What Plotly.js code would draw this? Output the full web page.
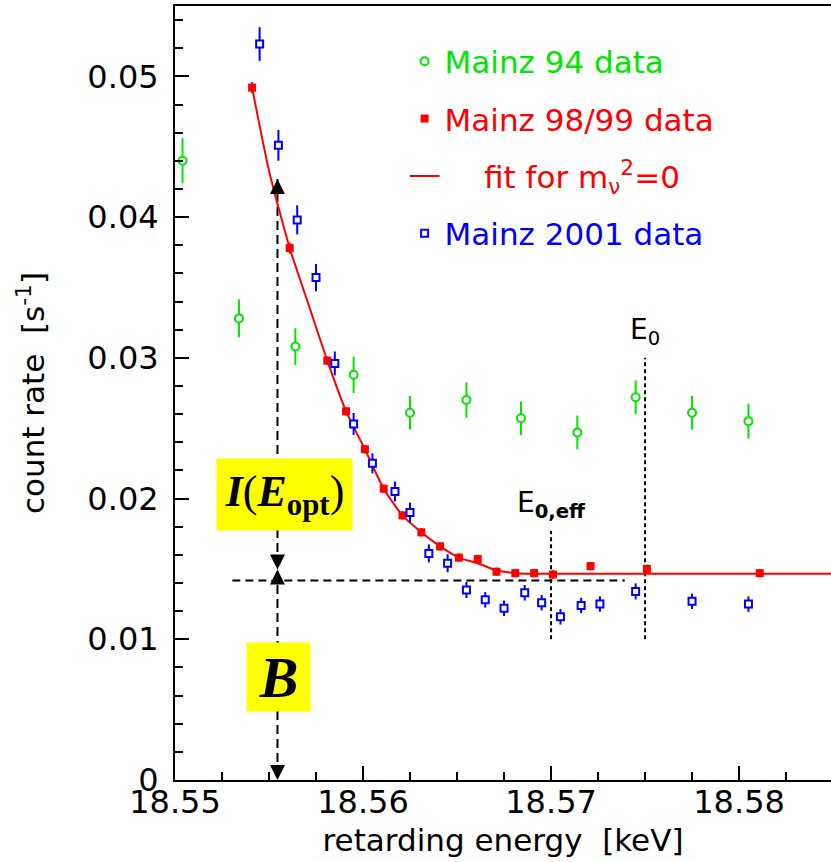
<!DOCTYPE html>
<html>
<head>
<meta charset="utf-8">
<script src="https://cdn.plot.ly/plotly-3.0.1.min.js"></script>
<style>
html,body{margin:0;padding:0;overflow:hidden;background:#fff;}
#chart{width:831px;height:862px;}
</style>
</head>
<body>
<div id="chart"></div>
<script>
// ---- data ----
const m94_x   = [18.5504, 18.5534, 18.5564, 18.5595, 18.5625, 18.5655, 18.5684, 18.5714, 18.5745, 18.5775, 18.5805];
const m94_y   = [0.0440, 0.0328, 0.0308, 0.0288, 0.0261, 0.0270, 0.0257, 0.0247, 0.0272, 0.0261, 0.0255];
const m94_err = [0.0016, 0.00135, 0.0013, 0.0013, 0.0012, 0.00125, 0.0012, 0.0012, 0.0012, 0.0012, 0.00125];

const m98_x   = [18.5541, 18.5561, 18.5581, 18.5591, 18.5601, 18.5611, 18.5621, 18.5631, 18.5641, 18.5651, 18.5661, 18.5671, 18.5681, 18.5691, 18.5701, 18.5721, 18.5751, 18.5811];
const m98_y   = [0.0492, 0.0378, 0.0298, 0.0262, 0.0235, 0.0207, 0.0188, 0.0176, 0.0166, 0.0158, 0.0157, 0.0148, 0.0147, 0.0147, 0.0146, 0.0152, 0.0150, 0.0147];
const m98_err = [0.0004, 0.0004, 0.0003, 0.0003, 0.0003, 0.0003, 0.0003, 0.0003, 0.0003, 0.0003, 0.0003, 0.0003, 0.0003, 0.0003, 0.0003, 0.0003, 0.0003, 0.0003];

const fit_x = [18.5541, 18.5550, 18.5561, 18.5572, 18.5581, 18.5591, 18.5601, 18.5611, 18.5621, 18.5631, 18.5641, 18.5651, 18.5661, 18.5671, 18.5681, 18.5691, 18.5701, 18.5750, 18.5800, 18.5849];
const fit_y = [0.0492, 0.0433, 0.0378, 0.0334, 0.0298, 0.0262, 0.0235, 0.0207, 0.0188, 0.0176, 0.0166, 0.0158, 0.0154, 0.0149, 0.0147, 0.01466, 0.01465, 0.01465, 0.01465, 0.01465];

const m01_x   = [18.5545, 18.5555, 18.5565, 18.5575, 18.5585, 18.5595, 18.5605, 18.5617, 18.5625, 18.5635, 18.5645, 18.5655, 18.5665, 18.5675, 18.5686, 18.5695, 18.5705, 18.5716, 18.5726, 18.5745, 18.5775, 18.5805];
const m01_y   = [0.0523, 0.0451, 0.0398, 0.0357, 0.0296, 0.0253, 0.0225, 0.0205, 0.0190, 0.0161, 0.0154, 0.0135, 0.0128, 0.0122, 0.0133, 0.0126, 0.0116, 0.0124, 0.0125, 0.0134, 0.0127, 0.0125];
const m01_err = [0.0012, 0.0011, 0.00103, 0.00097, 0.00085, 0.00078, 0.00071, 0.00071, 0.00071, 0.00064, 0.00064, 0.00057, 0.00055, 0.00055, 0.00055, 0.00055, 0.00055, 0.00055, 0.00055, 0.00057, 0.00055, 0.00055];

// reference levels / markers on the plot
const E0 = 18.575, E0eff = 18.570;
const eOpt = 18.55545;            // position of I(E_opt)/B arrows
const level_top = 0.0427, level_mid = 0.01496, level_B = 0.01418;

const GREEN = '#00e600', RED = '#ff0000', BLUE = '#0000ff';
const names = {
  m94: '<span style="color:' + GREEN + '">Mainz 94 data</span>',
  m98: '<span style="color:' + RED + '">Mainz 98/99 data</span>',
  fit: '<span style="color:' + RED + '">\u00a0\u00a0\u00a0 fit for m<sub>ν</sub><sup>2</sup>=0</span>',
  m01: '<span style="color:' + BLUE + '">Mainz 2001 data</span>'
};

const traces = [
  {x: m94_x, y: m94_y, name: names.m94, legendgroup: 'a', type: 'scatter', mode: 'markers',
   error_y: {type: 'data', array: m94_err, color: GREEN, thickness: 2, width: 0},
   marker: {symbol: 'circle', size: 8, color: '#ffffff', line: {color: GREEN, width: 2}}},
  {x: m98_x, y: m98_y, name: names.m98, legendgroup: 'b', type: 'scatter', mode: 'markers',
   error_y: {type: 'data', array: m98_err, color: RED, thickness: 2, width: 0},
   marker: {symbol: 'square', size: 8, color: RED, line: {width: 0}}},
  {x: fit_x, y: fit_y, name: names.fit, legendgroup: 'c', type: 'scatter', mode: 'lines',
   line: {color: RED, width: 2, shape: 'spline', smoothing: 0.6}},
  {x: m01_x, y: m01_y, name: names.m01, legendgroup: 'd', type: 'scatter', mode: 'markers',
   error_y: {type: 'data', array: m01_err, color: BLUE, thickness: 2, width: 0},
   marker: {symbol: 'square', size: 7, color: '#ffffff', line: {color: BLUE, width: 2}}}
];

const FONT = 'DejaVu Sans, Liberation Sans, sans-serif';
const SERIF = 'Liberation Serif, Times New Roman, serif';

function arrowHead(y, dir) {
  return {x: eOpt, y: y, xref: 'x', yref: 'y', text: '', showarrow: true,
          arrowhead: 2, arrowsize: 1.5, arrowwidth: 2, arrowcolor: '#000',
          ax: 0, ay: dir === 'up' ? 15 : -15, standoff: 0};
}

const layout = {
  width: 831, height: 862,
  margin: {l: 175, r: 0, t: 6, b: 82, pad: 0},
  paper_bgcolor: '#fff', plot_bgcolor: '#fff',
  font: {family: FONT, size: 32, color: '#000'},
  showlegend: true,
  legend: {x: 0.35, y: 0.963, xanchor: 'left', yanchor: 'top',
           bgcolor: 'rgba(0,0,0,0)', borderwidth: 0,
           font: {family: FONT, size: 31}, traceorder: 'grouped', tracegroupgap: 14},
  xaxis: {range: [18.55, 18.58489], showgrid: false, zeroline: false,
          showline: true, linecolor: '#000', linewidth: 2, mirror: true,
          ticks: 'inside', ticklen: 14, tickwidth: 2, tickcolor: '#000',
          tick0: 18.55, dtick: 0.01, tickformat: '.2f',
          minor: {dtick: 0.0025, ticks: 'inside', ticklen: 8, tickwidth: 2, tickcolor: '#000', showgrid: false},
          tickfont: {family: FONT, size: 32}, ticklabelstandoff: -7,
          title: {text: 'retarding energy \u00a0[keV]', font: {family: FONT, size: 31}, standoff: 9}},
  yaxis: {range: [0, 0.055], showgrid: false, zeroline: false,
          showline: true, linecolor: '#000', linewidth: 2, mirror: false,
          ticks: 'inside', ticklen: 14, tickwidth: 2, tickcolor: '#000',
          tick0: 0, dtick: 0.01,
          minor: {dtick: 0.002, ticks: 'inside', ticklen: 8, tickwidth: 2, tickcolor: '#000', showgrid: false},
          tickfont: {family: FONT, size: 32}, ticklabelstandoff: 8,
          title: {text: 'count rate \u00a0[s<sup>-1</sup>]', font: {family: FONT, size: 31}, standoff: 33}},
  shapes: [
    {type: 'line', xref: 'x', yref: 'y', x0: eOpt, x1: eOpt, y0: level_top, y1: 0, layer: 'below',
     line: {color: '#000', width: 2, dash: '9px,5px'}},
    {type: 'line', xref: 'x', yref: 'y', x0: 18.55305, x1: 18.57392, y0: level_B, y1: level_B, layer: 'below',
     line: {color: '#000', width: 2, dash: '8px,5px'}},
    {type: 'line', xref: 'x', yref: 'y', x0: E0eff, x1: E0eff, y0: 0.0100, y1: 0.0177, layer: 'below',
     line: {color: '#000', width: 2, dash: '4px,3px'}},
    {type: 'line', xref: 'x', yref: 'y', x0: E0, x1: E0, y0: 0.0100, y1: 0.0300, layer: 'below',
     line: {color: '#000', width: 2, dash: '4px,3px'}}
  ],
  annotations: [
    arrowHead(level_top, 'up'),
    arrowHead(level_mid, 'down'),
    arrowHead(level_mid, 'up'),
    arrowHead(0, 'down'),
    {x: E0, y: 0.0300, xref: 'x', yref: 'y', xanchor: 'center', yanchor: 'bottom', yshift: 6, showarrow: false,
     text: 'E<sub>0</sub>', font: {family: FONT, size: 28, color: '#000'}},
    {x: E0eff, y: 0.0177, xref: 'x', yref: 'y', xanchor: 'center', yanchor: 'bottom', yshift: 6, showarrow: false,
     text: 'E<sub><b>0,eff</b></sub>', font: {family: FONT, size: 28, color: '#000'}},
    {x: 18.55583, y: 0.02031, xref: 'x', yref: 'y', xanchor: 'center', yanchor: 'middle', showarrow: false,
     width: 135, height: 71, bgcolor: '#ffff00', borderpad: 0,
     text: '<b><i>I</i></b>(<b><i>E</i></b><sub><b>opt</b></sub>)', font: {family: SERIF, size: 44, color: '#000'}},
    {x: 18.55548, y: 0.00731, xref: 'x', yref: 'y', xanchor: 'center', yanchor: 'middle', showarrow: false,
     width: 63, height: 68, bgcolor: '#ffff00', borderpad: 0,
     text: '<b><i>B</i></b>', font: {family: SERIF, size: 58, color: '#000'}}
  ]
};

Plotly.newPlot('chart', traces, layout, {staticPlot: true, displayModeBar: false});
</script>
</body>
</html>
